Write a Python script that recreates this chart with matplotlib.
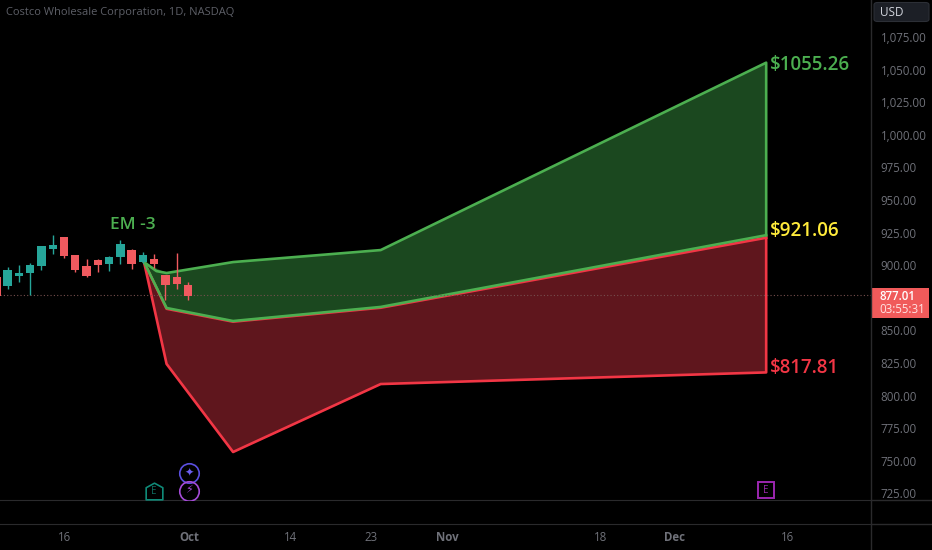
import matplotlib
matplotlib.use('Agg')
import matplotlib.pyplot as plt
from matplotlib.lines import Line2D
from matplotlib.patches import Rectangle, FancyBboxPatch
from matplotlib.path import Path

plt.rcParams['font.family'] = ['Open Sans', 'DejaVu Sans']

# Candles (bar index, open, high, low, close)
bar_idx = list(range(18))
opens = [890.7, 884.0, 891.7, 894.0, 899.3, 912.6, 921.3, 908.0, 899.1, 903.7,
         900.6, 906.0, 911.4, 902.2, 904.7, 892.7, 890.9, 885.0]
highs = [892.0, 898.3, 900.4, 901.4, 914.7, 922.9, 921.3, 908.0, 904.5, 904.5,
         907.0, 919.3, 912.1, 910.1, 908.3, 892.7, 909.1, 886.8]
lows = [875.0, 881.5, 887.3, 876.9, 896.3, 908.5, 905.2, 895.0, 890.7, 895.0,
        895.5, 900.9, 897.3, 901.4, 898.1, 873.3, 881.5, 873.3]
closes = [876.4, 896.3, 893.7, 899.9, 914.7, 915.2, 907.0, 896.0, 891.7, 899.9,
          906.5, 916.2, 900.6, 908.0, 900.6, 884.5, 885.5, 876.6]

# Expected move cone
upper_x = [13.1, 14.2, 15.1, 21.0, 34.1, 68.3]
upper_y = [902.4, 895.5, 894.0, 902.4, 911.6, 1055.26]
mid_x = [13.1, 15.1, 21.0, 34.1, 68.3]
mid_y = [902.4, 867.2, 857.2, 868.0, 923.0]
upper_on_mid = [902.4, 894.0, 902.4, 911.6, 1055.26]
red_top_y = [902.4, 866.6, 856.7, 867.4, 921.06]
lower_y = [902.4, 824.3, 756.8, 808.9, 817.81]

last_price = 877.01
price_ticks = [725, 750, 775, 800, 825, 850, 900, 925, 950, 975, 1000, 1025, 1050, 1075]
date_pos = [6.05, 17.1, 26.1, 33.2, 40, 53.6, 60.2, 70.2]
date_labels = ['16', 'Oct', '14', '23', 'Nov', '18', 'Dec', '16']
bold_dates = ['Oct', 'Nov', 'Dec']

W, H = 932, 550
BG = '#000000'
GRID = '#2a2a2c'
TXT = '#6f7179'
UP = '#26a69a'
DOWN = '#f05a5f'
GREEN = '#4caf50'
RED = '#f23645'
GREEN_FILL = '#1b481f'
RED_FILL = '#5f161d'
YELLOW = '#ffeb3b'

fig = plt.figure(figsize=(W / 100, H / 100), dpi=100, facecolor=BG)
ax = fig.add_axes([0, 50 / H, 871 / W, 500 / H], facecolor=BG)
ax.set_xlim(0.32, 77.6)
ax.set_ylim(720.0, 1103.3)

# candles sit on top of the cone
for i, o, h, l, c in zip(bar_idx, opens, highs, lows, closes):
    col = UP if c >= o else DOWN
    ax.plot([i, i], [l, h], color=col, lw=1, zorder=8, solid_capstyle='butt')
    ax.add_patch(Rectangle((i - 0.37, min(o, c)), 0.74, abs(c - o), facecolor=col,
                           edgecolor='none', zorder=9))

# last price line
ax.plot([0.32, 77.6], [last_price, last_price], color='#77504f', lw=0.8, ls=(0, (1, 2)), zorder=7)

# cone fills
ax.fill_between(mid_x, mid_y, lower_y, color=RED_FILL, lw=0, zorder=4)
ax.fill_between(mid_x, mid_y, upper_on_mid, color=GREEN_FILL, lw=0, zorder=4)

# cone outlines, last point closes the right edge
ax.plot(mid_x, red_top_y, color=RED, lw=1.9, zorder=5)
ax.plot(mid_x + [mid_x[-1]], lower_y + [red_top_y[-1]], color=RED, lw=1.9, zorder=5)
ax.plot(upper_x + [upper_x[-1]], upper_y + [mid_y[-1]], color=GREEN, lw=1.9, zorder=6)
ax.plot(mid_x, mid_y, color=GREEN, lw=1.9, zorder=6)

# labels on the cone
lab = dict(fontsize=13.5, fontweight='semibold', va='center', ha='left', zorder=10)
ax.text(68.65, 1053.5, '$1055.26', color=GREEN, **lab)
ax.text(68.65, 926.5, '$921.06', color=YELLOW, **lab)
ax.text(68.65, 821.0, '$817.81', color=RED, **lab)
ax.text(12.1, 930.5, 'EM -3', color=GREEN, fontsize=12.5, fontweight='semibold',
        va='center', ha='center', zorder=10)

# event markers
house = Path([(-1, -1), (1, -1), (1, 0.45), (0, 1), (-1, 0.45), (-1, -1)], closed=True)
ax.plot([14.0], [727.2], marker=house, ms=12, mfc='none', mec='#0f8a78', mew=1.2, zorder=6)
ax.text(14.0, 726.8, 'E', color='#0f6f62', fontsize=7, ha='center', va='center')
ax.plot([17.1], [741.0], marker='o', ms=14, mfc='none', mec='#5b4fe0', mew=1.2, zorder=6)
ax.text(17.1, 740.8, '\u2726', color='#6c5ff0', fontsize=8, ha='center', va='center')
ax.plot([17.1], [727.0], marker='o', ms=14, mfc='none', mec='#a54bd8', mew=1.2, zorder=6)
ax.text(17.1, 726.8, '\u26a1', color='#a54bd8', fontsize=8, ha='center', va='center')
ax.plot([68.3], [727.5], marker='s', ms=11, mfc='none', mec='#9c27b0', mew=1.4, zorder=6)
ax.text(68.3, 727.2, 'E', color='#9c27b0', fontsize=7, ha='center', va='center')

# header
ax.text(6 / 871, 1 - 12 / 500, 'Costco Wholesale Corporation, 1D, NASDAQ', transform=ax.transAxes,
        color='#5d5f67', fontsize=8, va='center', ha='left')

# price axis
ax.yaxis.tick_right()
ax.set_yticks(price_ticks)
ax.set_yticklabels([f'{p:,.2f}' for p in price_ticks])
ax.tick_params(axis='y', length=0, pad=7, labelsize=8.3, labelcolor=TXT)
ax.set_xticks([])
for name, sp in ax.spines.items():
    sp.set_visible(name == 'bottom')
ax.spines['bottom'].set_color(GRID)

# time axis strip
ax_t = fig.add_axes([0, 0, 871 / W, 26 / H], facecolor=BG)
ax_t.set_xlim(0.32, 77.6)
ax_t.set_yticks([])
ax_t.set_xticks(date_pos)
ax_t.set_xticklabels(date_labels)
ax_t.tick_params(axis='x', length=0, pad=-14, labelsize=8.3, labelcolor=TXT)
for t in ax_t.get_xticklabels():
    if t.get_text() in bold_dates:
        t.set_fontweight('bold')
for name, sp in ax_t.spines.items():
    sp.set_visible(name == 'top')
ax_t.spines['top'].set_color(GRID)

# frame lines in pixel positions
fig.add_artist(Line2D([871 / W, 871 / W], [0, 1], color=GRID, lw=1))
fig.add_artist(Line2D([871 / W, 1], [50 / H, 50 / H], color=GRID, lw=1))
fig.add_artist(Line2D([871 / W, 1], [26 / H, 26 / H], color=GRID, lw=1))

# USD button and last price tag
fig.add_artist(FancyBboxPatch((874 / W, 1 - 21.5 / H), 55 / W, 19 / H,
                              boxstyle='round,pad=0,rounding_size=0.004',
                              transform=fig.transFigure, facecolor='#1c1f26', edgecolor='#2c2f36', lw=0.8))
fig.text(880 / W, 1 - 12.5 / H, 'USD', color='#d1d4dc', fontsize=8.5, va='center', ha='left')

fig.add_artist(Rectangle((871 / W, 1 - 317.5 / H), 58 / W, 29.5 / H, transform=fig.transFigure,
                         facecolor='#f05a5a', edgecolor='none'))
fig.text(879 / W, 1 - 296 / H, f'{last_price:.2f}', color='white', fontsize=8.3,
         fontweight='semibold', va='center', ha='left')
fig.text(879 / W, 1 - 309.5 / H, '03:55:31', color='#ffe3e3', fontsize=8.3, va='center', ha='left')

fig.savefig('out.png', dpi=100, facecolor=BG)
